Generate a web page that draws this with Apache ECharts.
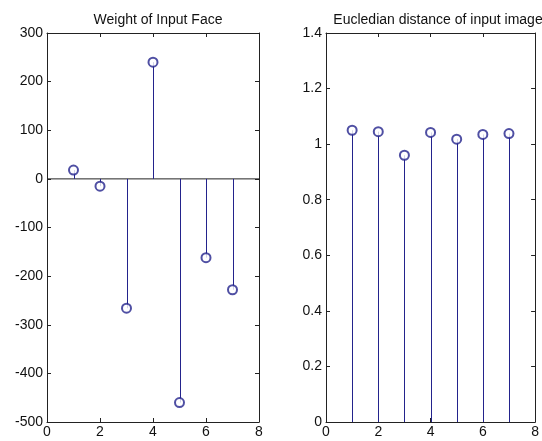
<!DOCTYPE html>
<html><head><meta charset="utf-8">
<script src="https://cdn.jsdelivr.net/npm/echarts@6/dist/echarts.min.js"></script>
<style>html,body{margin:0;padding:0;background:#fff}#c{width:542px;height:441px}</style>
</head><body><div id="c"></div>
<script>
const xIdx = [1, 2, 3, 4, 5, 6, 7];
const weights = [18, -15, -266, 240, -460, -162, -228];
const distances = [1.050, 1.045, 0.960, 1.042, 1.018, 1.035, 1.038];
const xTicks = [0, 2, 4, 6, 8];
const leftTitle = 'Weight of Input Face';
const rightTitle = 'Eucledian distance of input image';

const stemColor = '#23238c';
const font = 'Liberation Sans, Arial, sans-serif';
const chart = echarts.init(document.getElementById('c'));

function pairs(ys) { return xIdx.map((x, i) => [x, ys[i]]); }

function stemSeries(xi, yi, ys) {
  return {
    type: 'custom', xAxisIndex: xi, yAxisIndex: yi, data: pairs(ys), silent: true, z: 3,
    renderItem: function (params, api) {
      const p0 = api.coord([api.value(0), 0]);
      const p1 = api.coord([api.value(0), api.value(1)]);
      const x = Math.round(p0[0]) + 0.5;
      return { type: 'line', shape: { x1: x, y1: p0[1], x2: x, y2: p1[1] },
        style: { stroke: stemColor, lineWidth: 1 } };
    }
  };
}
function markSeries(xi, yi, ys) {
  return { type: 'scatter', xAxisIndex: xi, yAxisIndex: yi, data: pairs(ys), symbol: 'emptyCircle', symbolSize: 9,
    itemStyle: { color: stemColor, borderColor: stemColor, borderWidth: 1 }, silent: true, z: 5 };
}
const axisLine = { show: true, onZero: false, lineStyle: { color: '#222', width: 1 } };
const tick = { show: true, inside: true, length: 4, lineStyle: { color: '#222' } };
const lbl = { color: '#111', fontFamily: font, fontSize: 14 };

function xAxes(gi) {
  return [
    { type: 'value', gridIndex: gi, min: 0, max: 8, interval: 2, position: 'bottom', axisLine, axisTick: tick,
      axisLabel: Object.assign({ margin: 3, formatter: v => xTicks.includes(v) ? String(v) : '' }, lbl), splitLine: { show: false } },
    { type: 'value', gridIndex: gi, min: 0, max: 8, interval: 2, position: 'top', axisLine, axisTick: tick,
      axisLabel: { show: false }, splitLine: { show: false } }
  ];
}
function yAxes(gi, min, max, interval, fmt) {
  return [
    { type: 'value', gridIndex: gi, min, max, interval, position: 'left', axisLine, axisTick: tick,
      axisLabel: Object.assign({ margin: 4, formatter: fmt }, lbl), splitLine: { show: false } },
    { type: 'value', gridIndex: gi, min, max, interval, position: 'right', axisLine, axisTick: tick,
      axisLabel: { show: false }, splitLine: { show: false } }
  ];
}

chart.setOption({
  animation: false,
  backgroundColor: '#fff',
  title: [
    { text: leftTitle, left: 153, top: 8, textAlign: 'center', textStyle: { fontFamily: font, fontSize: 14, fontWeight: 'normal', color: '#111' } },
    { text: rightTitle, left: 433, top: 8, textAlign: 'center', textStyle: { fontFamily: font, fontSize: 14, fontWeight: 'normal', color: '#111' } }
  ],
  grid: [
    { left: 47, top: 33, width: 212, height: 389 },
    { left: 326, top: 33, width: 215, height: 389 }
  ],
  xAxis: xAxes(0).concat(xAxes(1)),
  yAxis: yAxes(0, -500, 300, 100, v => String(v)).concat(yAxes(1, 0, 1.4, 0.2, v => String(Math.round(v * 10) / 10))),
  series: [
    stemSeries(0, 0, weights),
    markSeries(0, 0, weights),
    { type: 'line', xAxisIndex: 0, yAxisIndex: 0, data: [[0, 0], [8, 0]], symbol: 'none', silent: true,
      lineStyle: { color: '#222', width: 1 }, z: 1 },
    stemSeries(2, 2, distances),
    markSeries(2, 2, distances)
  ]
});
</script></body></html>
